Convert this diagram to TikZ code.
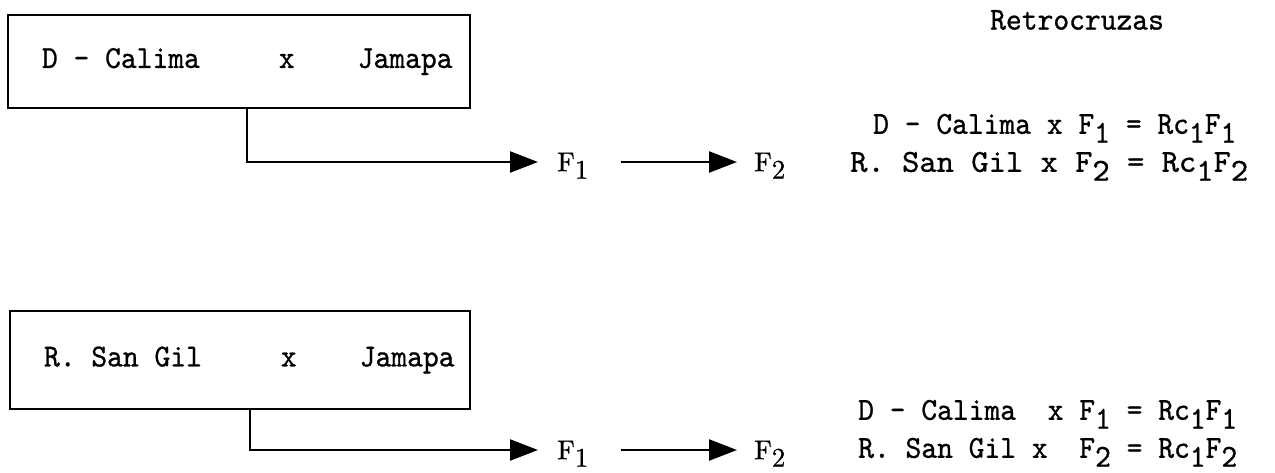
\documentclass[tikz,border=0pt]{standalone}
\usepackage{fontspec}
\usetikzlibrary{arrows.meta}
\newfontfamily\twf{lmmono10-regular}[Extension=.otf, FakeStretch=0.94, FakeBold=0.8]
\newfontfamily\twfw{lmmono10-regular}[Extension=.otf, FakeStretch=1.03, FakeBold=0.8]
\newfontfamily\rmf{lmroman10-regular}[Extension=.otf, FakeBold=0.8]
\newcommand\tw{\fontsize{32}{38}\selectfont\twf}
\newcommand\tww{\fontsize{32}{38}\selectfont\twfw}
\newcommand\lo[1]{\raisebox{-0.28em}[0pt][0pt]{#1}}
\tikzset{
  crossbox/.style={draw, line width=2.6pt, minimum width=462pt, minimum height=93pt, inner sep=0pt, font=\tw},
  lbl/.style={inner sep=0pt, anchor=west, font=\tw},
  gen/.style={inner sep=0pt, anchor=west, font=\fontsize{27}{32}\selectfont\rmf},
  arr/.style={line width=2.4pt, -{Triangle[length=28pt,width=21pt]}},
}
\begin{document}
\begin{tikzpicture}[x=1pt,y=-1pt]
\useasboundingbox (0,0) rectangle (1275,472);
% upper cross
\node[crossbox] (b1) at (239,61.5) {\makebox[394pt][l]{D - Calima~~~~~x~~~~Jamapa}};
\node[gen] (f1a) at (557,162) {F\lo{1}};
\node[gen] (f2a) at (754,162) {F\lo{2}};
\draw[arr, shorten >=19pt] ([xshift=8pt]b1.south) |- (f1a.west);
\draw[arr, shorten >=17pt] ([xshift=32pt]f1a.east) -- (f2a.west);
% lower cross
\node[crossbox, minimum width=460pt, minimum height=98pt] (b2) at (240,360) {\makebox[392pt][l]{R. San Gil~~~~~x~~~~Jamapa}};
\node[gen] (f1b) at (557,450) {F\lo{1}};
\node[gen] (f2b) at (754,450) {F\lo{2}};
\draw[arr, shorten >=19pt] ([xshift=10pt]b2.south) |- (f1b.west);
\draw[arr, shorten >=17pt] ([xshift=32pt]f1b.east) -- (f2b.west);
% backcrosses
\node[lbl] (ret) at (990,20) {Retrocruzas};
\node[lbl] (ra) at (873,124) {D - Calima x F\lo{1} = Rc\lo{1}F\lo{1}};
\node[lbl, font=\tww] (rb) at (850,162) {R. San Gil x F\lo{2} = Rc\lo{1}F\lo{2}};
\node[lbl] (rc) at (858,410) {D - Calima~~x F\lo{1} = Rc\lo{1}F\lo{1}};
\node[lbl] (rd) at (858,448) {R. San Gil x~~F\lo{2} = Rc\lo{1}F\lo{2}};
\end{tikzpicture}
\end{document}
